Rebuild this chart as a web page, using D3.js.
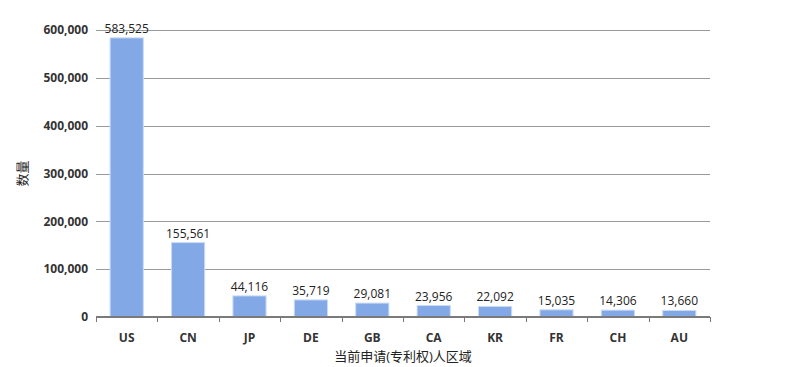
<!DOCTYPE html>
<html>
<head>
<meta charset="utf-8">
<script src="https://cdn.jsdelivr.net/npm/d3@7"></script>
<style>
  body { margin: 0; background: #fff; }
  text { font-family: "Open Sans", "Noto Sans CJK SC", sans-serif; }
</style>
</head>
<body>
<svg id="chart" width="805" height="367"></svg>
<script>
// data
const regions = ['US', 'CN', 'JP', 'DE', 'GB', 'CA', 'KR', 'FR', 'CH', 'AU']
const counts = [583525, 155561, 44116, 35719, 29081, 23956, 22092, 15035, 14306, 13660]
const yTicks = [0, 100000, 200000, 300000, 400000, 500000, 600000]

const margins = { left: 96, top: 30, right: 95, bottom: 50 }
const width = 805, height = 367
const svg = d3.select('#chart')

const x = d3.scaleBand().domain(regions).range([margins.left, width - margins.right]).paddingInner(0).paddingOuter(0)
const y = d3.scaleLinear().domain([0, 600000]).range([height - margins.bottom, margins.top])
const barW = x.bandwidth() * 0.54

// grid lines
svg.append('g')
    .selectAll('line')
    .data(yTicks.slice(1))
    .join('line')
    .attr('x1', margins.left).attr('x2', width - margins.right)
    .attr('y1', d => Math.round(y(d)) + 0.5).attr('y2', d => Math.round(y(d)) + 0.5)
    .attr('stroke', '#9a9a9a')
    .attr('stroke-width', 1)

// y tick labels
svg.append('g')
    .selectAll('text')
    .data(yTicks)
    .join('text')
    .attr('x', 88)
    .attr('y', d => y(d))
    .attr('dy', '0.35em')
    .attr('text-anchor', 'end')
    .attr('font-size', '12px')
    .attr('font-weight', 'bold')
    .attr('fill', '#333')
    .text(d => d3.format(',')(d))

// bars
svg.append('g')
    .selectAll('rect')
    .data(regions)
    .join('rect')
    .attr('x', (d) => x(d) + (x.bandwidth() - barW) / 2)
    .attr('y', (d, i) => y(counts[i]))
    .attr('width', barW)
    .attr('height', (d, i) => y(0) - y(counts[i]))
    .attr('fill', '#82a8e6')
    .attr('stroke', '#c9daf5')
    .attr('stroke-width', 1)

// value labels
svg.append('g')
    .selectAll('text')
    .data(regions)
    .join('text')
    .attr('x', d => x(d) + x.bandwidth() / 2)
    .attr('y', (d, i) => y(counts[i]) - 5)
    .attr('text-anchor', 'middle')
    .attr('font-size', '12px')
    .attr('fill', '#222')
    .text((d, i) => d3.format(',')(counts[i]))

// x axis line + ticks
const axisY = y(0)
svg.append('line')
    .attr('x1', margins.left).attr('x2', width - margins.right)
    .attr('y1', axisY).attr('y2', axisY)
    .attr('stroke', '#7a7a7a')
    .attr('stroke-width', 2)
svg.append('g')
    .selectAll('line')
    .data(regions.map(d => x(d)).concat([width - margins.right]))
    .join('line')
    .attr('x1', d => Math.round(d) + 0.5).attr('x2', d => Math.round(d) + 0.5)
    .attr('y1', axisY).attr('y2', axisY + 5)
    .attr('stroke', '#7a7a7a')

// category labels
svg.append('g')
    .selectAll('text')
    .data(regions)
    .join('text')
    .attr('x', d => x(d) + x.bandwidth() / 2)
    .attr('y', axisY + 25)
    .attr('text-anchor', 'middle')
    .attr('font-size', '12px')
    .attr('font-weight', 'bold')
    .attr('fill', '#333')
    .text(d => d)

// axis titles
svg.append('text')
    .attr('x', (margins.left + width - margins.right) / 2)
    .attr('y', 361)
    .attr('text-anchor', 'middle')
    .attr('font-size', '13px')
    .attr('fill', '#222')
    .text('当前申请(专利权)人区域')

svg.append('text')
    .attr('transform', `translate(27, ${(margins.top + axisY) / 2}) rotate(-90)`)
    .attr('text-anchor', 'middle')
    .attr('font-size', '13px')
    .attr('fill', '#222')
    .text('数量')
</script>
</body>
</html>
